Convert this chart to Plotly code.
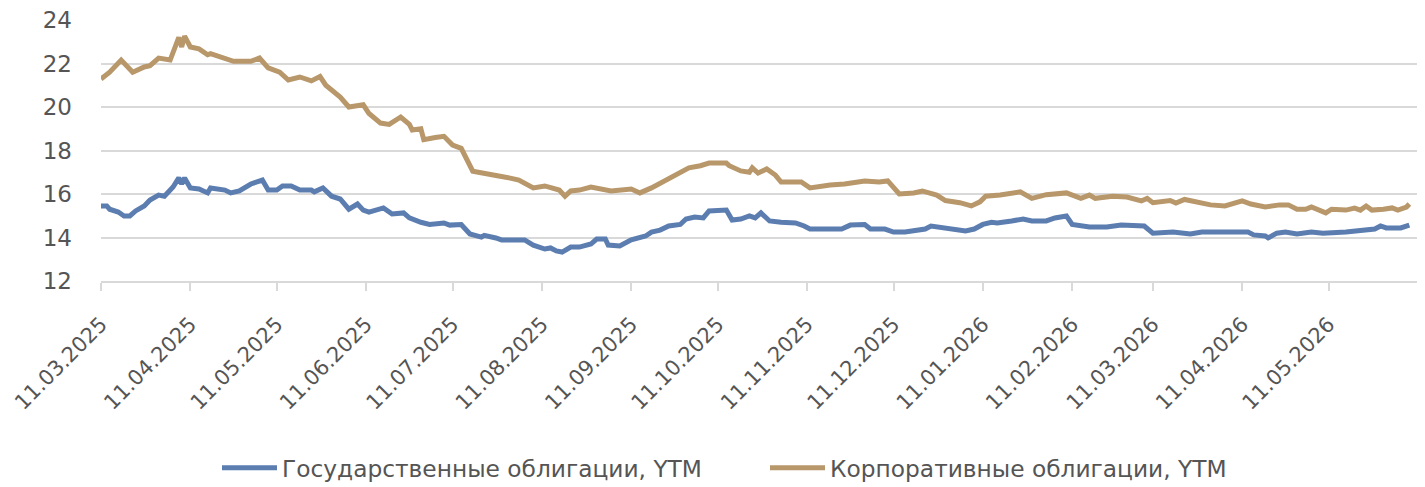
import plotly.graph_objects as go

# Corporate bonds YTM
corp_dates = [
    "2025-03-11", "2025-03-14", "2025-03-18", "2025-03-22", "2025-03-26", "2025-03-28", "2025-03-31",
    "2025-04-04", "2025-04-07", "2025-04-08", "2025-04-09", "2025-04-11", "2025-04-14", "2025-04-17",
    "2025-04-18", "2025-04-23", "2025-04-26", "2025-05-02", "2025-05-05", "2025-05-08", "2025-05-12",
    "2025-05-15", "2025-05-19", "2025-05-23", "2025-05-26", "2025-05-28", "2025-06-02", "2025-06-05",
    "2025-06-10", "2025-06-12", "2025-06-16", "2025-06-19", "2025-06-23", "2025-06-26", "2025-06-27",
    "2025-06-30", "2025-07-01", "2025-07-05", "2025-07-08", "2025-07-11", "2025-07-14", "2025-07-18",
    "2025-07-24", "2025-07-27", "2025-07-31", "2025-08-03", "2025-08-08", "2025-08-12", "2025-08-17",
    "2025-08-19", "2025-08-21", "2025-08-24", "2025-08-28", "2025-08-31", "2025-09-04", "2025-09-11",
    "2025-09-14", "2025-09-18", "2025-09-23", "2025-09-28", "2025-10-01", "2025-10-05", "2025-10-08",
    "2025-10-14", "2025-10-15", "2025-10-19", "2025-10-22", "2025-10-23", "2025-10-25", "2025-10-28",
    "2025-10-31", "2025-11-02", "2025-11-05", "2025-11-09", "2025-11-12", "2025-11-16", "2025-11-19",
    "2025-11-24", "2025-11-28", "2025-12-01", "2025-12-06", "2025-12-09", "2025-12-13", "2025-12-18",
    "2025-12-21", "2025-12-26", "2025-12-29", "2026-01-03", "2026-01-07", "2026-01-10", "2026-01-12",
    "2026-01-17", "2026-01-24", "2026-01-28", "2026-02-02", "2026-02-09", "2026-02-14", "2026-02-17",
    "2026-02-19", "2026-02-25", "2026-03-02", "2026-03-07", "2026-03-09", "2026-03-11", "2026-03-17",
    "2026-03-19", "2026-03-22", "2026-03-28", "2026-03-31", "2026-04-05", "2026-04-11", "2026-04-14",
    "2026-04-19", "2026-04-24", "2026-04-27", "2026-04-30", "2026-05-03", "2026-05-05", "2026-05-08",
    "2026-05-10", "2026-05-12", "2026-05-17", "2026-05-20", "2026-05-22", "2026-05-24", "2026-05-26",
    "2026-05-30", "2026-06-02", "2026-06-04", "2026-06-07", "2026-06-08",
]
corp_values = [
    21.29, 21.6, 22.16, 21.6, 21.84, 21.9, 22.25,
    22.16, 23.2, 22.76, 23.26, 22.76, 22.67, 22.4,
    22.45, 22.25, 22.1, 22.1, 22.25, 21.8, 21.6,
    21.24, 21.38, 21.2, 21.4, 21.0, 20.46, 20.0,
    20.1, 19.7, 19.26, 19.2, 19.54, 19.2, 18.94,
    19.0, 18.5, 18.6, 18.65, 18.25, 18.1, 17.05,
    16.87, 16.83, 16.73, 16.64, 16.28, 16.37, 16.18,
    15.9, 16.14, 16.18, 16.32, 16.23, 16.14, 16.23,
    16.05, 16.28, 16.64, 16.97, 17.2, 17.3, 17.42,
    17.42, 17.3, 17.06, 17.0, 17.2, 16.96, 17.15,
    16.87, 16.55, 16.55, 16.55, 16.28, 16.37, 16.41,
    16.46, 16.55, 16.6, 16.55, 16.6, 16.0, 16.05,
    16.14, 15.95, 15.7, 15.6, 15.45, 15.64, 15.9,
    15.95, 16.1, 15.8, 15.97, 16.05, 15.8, 15.95,
    15.8, 15.9, 15.86, 15.68, 15.8, 15.6, 15.7,
    15.58, 15.75, 15.6, 15.5, 15.45, 15.68, 15.54,
    15.4, 15.5, 15.5, 15.3, 15.3, 15.4, 15.2,
    15.13, 15.3, 15.26, 15.35, 15.26, 15.45, 15.26,
    15.3, 15.36, 15.26, 15.4, 15.54,
]

# Government bonds YTM
gov_dates = [
    "2025-03-11", "2025-03-13", "2025-03-14", "2025-03-17", "2025-03-19", "2025-03-21", "2025-03-23",
    "2025-03-26", "2025-03-28", "2025-03-31", "2025-04-02", "2025-04-05", "2025-04-07", "2025-04-08",
    "2025-04-09", "2025-04-11", "2025-04-14", "2025-04-17", "2025-04-18", "2025-04-23", "2025-04-25",
    "2025-04-28", "2025-05-02", "2025-05-06", "2025-05-08", "2025-05-11", "2025-05-13", "2025-05-16",
    "2025-05-19", "2025-05-23", "2025-05-24", "2025-05-27", "2025-05-30", "2025-06-02", "2025-06-05",
    "2025-06-08", "2025-06-10", "2025-06-12", "2025-06-17", "2025-06-20", "2025-06-24", "2025-06-26",
    "2025-06-30", "2025-07-03", "2025-07-08", "2025-07-10", "2025-07-14", "2025-07-17", "2025-07-21",
    "2025-07-22", "2025-07-26", "2025-07-28", "2025-08-05", "2025-08-08", "2025-08-12", "2025-08-14",
    "2025-08-16", "2025-08-18", "2025-08-21", "2025-08-24", "2025-08-28", "2025-08-30", "2025-09-02",
    "2025-09-03", "2025-09-07", "2025-09-11", "2025-09-16", "2025-09-18", "2025-09-21", "2025-09-24",
    "2025-09-28", "2025-09-30", "2025-10-03", "2025-10-06", "2025-10-08", "2025-10-14", "2025-10-16",
    "2025-10-19", "2025-10-22", "2025-10-24", "2025-10-26", "2025-10-29", "2025-11-02", "2025-11-07",
    "2025-11-10", "2025-11-12", "2025-11-23", "2025-11-26", "2025-12-01", "2025-12-03", "2025-12-08",
    "2025-12-11", "2025-12-15", "2025-12-18", "2025-12-22", "2025-12-24", "2025-12-29", "2026-01-03",
    "2026-01-05", "2026-01-08", "2026-01-11", "2026-01-14", "2026-01-16", "2026-01-21", "2026-01-25",
    "2026-01-28", "2026-02-02", "2026-02-05", "2026-02-09", "2026-02-11", "2026-02-17", "2026-02-23",
    "2026-02-28", "2026-03-08", "2026-03-11", "2026-03-18", "2026-03-22", "2026-03-24", "2026-03-28",
    "2026-04-13", "2026-04-15", "2026-04-19", "2026-04-20", "2026-04-23", "2026-04-26", "2026-04-30",
    "2026-05-05", "2026-05-09", "2026-05-17", "2026-05-22", "2026-05-27", "2026-05-29", "2026-05-31",
    "2026-06-05", "2026-06-08",
]
gov_values = [
    15.45, 15.45, 15.3, 15.17, 14.99, 14.99, 15.22,
    15.45, 15.72, 15.95, 15.9, 16.32, 16.74, 16.46,
    16.74, 16.28, 16.23, 16.05, 16.28, 16.18, 16.05,
    16.14, 16.46, 16.64, 16.18, 16.18, 16.37, 16.37,
    16.18, 16.18, 16.1, 16.28, 15.9, 15.77, 15.3,
    15.54, 15.26, 15.17, 15.36, 15.08, 15.13, 14.9,
    14.7, 14.6, 14.67, 14.57, 14.6, 14.16, 14.02,
    14.1, 13.98, 13.89, 13.89, 13.65, 13.47, 13.52,
    13.38, 13.33, 13.56, 13.56, 13.7, 13.93, 13.93,
    13.65, 13.61, 13.89, 14.07, 14.25, 14.34, 14.53,
    14.6, 14.85, 14.94, 14.9, 15.22, 15.26, 14.8,
    14.85, 14.99, 14.9, 15.13, 14.76, 14.7, 14.67,
    14.53, 14.39, 14.39, 14.57, 14.6, 14.39, 14.39,
    14.25, 14.25, 14.3, 14.39, 14.53, 14.44, 14.34,
    14.3, 14.39, 14.6, 14.7, 14.67, 14.76, 14.85,
    14.76, 14.76, 14.9, 14.99, 14.6, 14.48, 14.48,
    14.57, 14.53, 14.2, 14.25, 14.2, 14.16, 14.25,
    14.25, 14.12, 14.07, 13.98, 14.2, 14.25, 14.16,
    14.25, 14.2, 14.25, 14.34, 14.39, 14.53, 14.44,
    14.44, 14.57,
]

tick_dates = [
    "2025-03-11", "2025-04-11", "2025-05-11", "2025-06-11", "2025-07-11", "2025-08-11",
    "2025-09-11", "2025-10-11", "2025-11-11", "2025-12-11", "2026-01-11", "2026-02-11",
    "2026-03-11", "2026-04-11", "2026-05-11", "2026-06-11",
]
tick_labels = [
    "11.03.2025", "11.04.2025", "11.05.2025", "11.06.2025", "11.07.2025", "11.08.2025",
    "11.09.2025", "11.10.2025", "11.11.2025", "11.12.2025", "11.01.2026", "11.02.2026",
    "11.03.2026", "11.04.2026", "11.05.2026", "",
]
y_ticks = [12, 14, 16, 18, 20, 22, 24]

GOV_COLOR = "#5B7DB0"
CORP_COLOR = "#B8976A"
GRID = "#D9D9D9"
TXT = "#555555"
FONT = "DejaVu Sans, Arial, sans-serif"

W, H = 1425, 487
PAGE_OFF = 8  # default body margin of the html page

fig = go.Figure()
fig.add_trace(go.Scatter(
    x=gov_dates, y=gov_values, mode="lines",
    name="Государственные облигации, YTM",
    line=dict(color=GOV_COLOR, width=5),
))
fig.add_trace(go.Scatter(
    x=corp_dates, y=corp_values, mode="lines",
    name="Корпоративные облигации, YTM",
    line=dict(color=CORP_COLOR, width=5),
))

fig.update_layout(
    width=W, height=H,
    margin=dict(l=101 - PAGE_OFF, r=W - 1418 + PAGE_OFF, t=20 - PAGE_OFF,
                b=H - 281 + PAGE_OFF, autoexpand=False),
    plot_bgcolor="white", paper_bgcolor="white",
    font=dict(family=FONT, color=TXT),
    showlegend=True,
    legend=dict(
        orientation="h",
        xref="container", x=209 / W, xanchor="left",
        yref="container", y=1 - (468 - PAGE_OFF) / H, yanchor="middle",
        font=dict(family=FONT, size=23.3, color=TXT),
        itemwidth=55,
        entrywidth=478, entrywidthmode="pixels",
    ),
)
fig.update_xaxes(
    type="date",
    range=["2025-03-11", "2026-06-11"],
    tickmode="array", tickvals=tick_dates, ticktext=tick_labels,
    tickangle=-45,
    tickfont=dict(family=FONT, size=21, color=TXT),
    showgrid=False,
    showline=True, linecolor=GRID, linewidth=1.5,
    ticks="outside", ticklen=8, tickcolor=GRID, tickwidth=1.5,
    zeroline=False, automargin=False,
    ticklabelstandoff=13, ticklabeloverflow="allow",
)
fig.update_yaxes(
    range=[12, 24],
    tickmode="array", tickvals=y_ticks,
    tickfont=dict(family=FONT, size=23, color=TXT),
    showgrid=True, gridcolor=GRID, gridwidth=1.5,
    zeroline=False, showline=False,
    ticks="", ticklabelstandoff=28, automargin=False,
    ticklabeloverflow="allow",
)

fig.write_html("out.html")
